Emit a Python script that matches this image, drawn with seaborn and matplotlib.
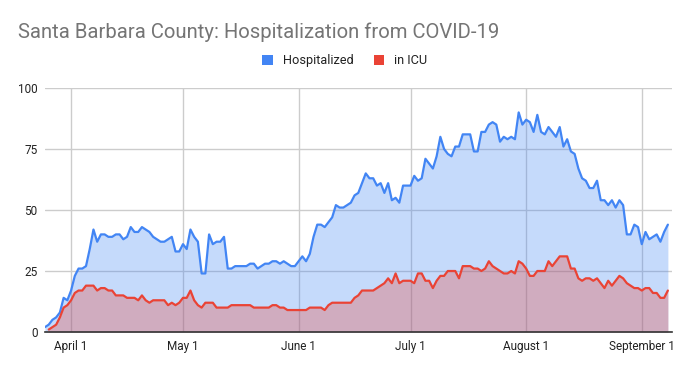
import numpy as np
import pandas as pd
import seaborn as sns
import matplotlib.pyplot as plt
from matplotlib.patches import Patch

# daily counts, starting 2020-03-25
hospitalized = [2, 3, 5, 6, 8, 14, 13, 17, 23, 26, 26, 27, 34, 42, 37, 40, 40, 39, 39, 40,
                40, 38, 39, 43, 41, 41, 43, 42, 41, 39, 38, 37, 37, 38, 39, 33, 33, 36, 34, 42,
                39, 37, 24, 24, 40, 36, 37, 37, 39, 26, 26, 27, 27, 27, 27, 28, 28, 26, 27, 28,
                28, 29, 29, 28, 29, 28, 27, 27, 29, 31, 29, 32, 39, 44, 44, 43, 45, 47, 52, 51,
                51, 52, 53, 56, 57, 61, 65, 63, 63, 60, 61, 57, 61, 54, 55, 53, 60, 60, 60, 64,
                62, 63, 71, 69, 67, 72, 80, 75, 73, 72, 76, 76, 81, 81, 81, 74, 74, 82, 82, 85,
                86, 85, 78, 80, 79, 80, 79, 90, 85, 87, 86, 82, 89, 82, 81, 84, 82, 80, 84, 76,
                79, 74, 73, 67, 63, 62, 59, 59, 62, 54, 54, 52, 54, 51, 54, 52, 40, 40, 44, 43,
                36, 41, 38, 39, 40, 37, 41, 44]
in_icu = [np.nan, 1, 2, 3, 6, 10, 11, 13, 16, 17, 17, 19, 19, 19, 17, 18, 18, 17, 17, 15,
          15, 15, 14, 14, 14, 13, 15, 13, 12, 13, 13, 13, 13, 11, 12, 11, 12, 14, 14, 17,
          13, 11, 10, 12, 12, 12, 10, 10, 10, 10, 11, 11, 11, 11, 11, 11, 10, 10, 10, 10,
          10, 11, 11, 10, 10, 9, 9, 9, 9, 9, 9, 10, 10, 10, 10, 9, 11, 12, 12, 12,
          12, 12, 12, 14, 15, 17, 17, 17, 17, 18, 19, 20, 22, 20, 24, 20, 21, 21, 21, 20,
          24, 24, 21, 21, 18, 21, 23, 23, 25, 25, 25, 22, 27, 27, 27, 26, 26, 25, 26, 29,
          27, 26, 25, 24, 24, 25, 24, 29, 28, 26, 23, 23, 25, 25, 25, 29, 27, 29, 31, 31,
          31, 26, 26, 22, 21, 22, 22, 21, 22, 20, 18, 21, 19, 21, 23, 22, 20, 19, 18, 18,
          17, 18, 18, 16, 16, 14, 14, 17]

month_ticks = ["2020-04-01", "2020-05-01", "2020-06-01", "2020-07-01", "2020-08-01", "2020-09-01"]
month_labels = ["April 1", "May 1", "June 1", "July 1", "August 1", "September 1"]
y_ticks = [0, 25, 50, 75, 100]

dates = pd.date_range("2020-03-25", periods=len(hospitalized), freq="D")
df = pd.DataFrame({"date": dates, "Hospitalized": hospitalized, "in ICU": in_icu})

BLUE = "#4285F4"
RED = "#EA4335"

sns.set_style("white")
plt.rcParams["font.family"] = ["Roboto", "DejaVu Sans"]

fig = plt.figure(figsize=(6.9, 3.71), dpi=100)
ax = fig.add_axes([0.0645, 0.1051, 0.9093, 0.6577])

# areas first, then the lines on top
ax.fill_between(df["date"], 0, df["Hospitalized"], color=BLUE, alpha=0.3, linewidth=0, zorder=2)
ax.fill_between(df["date"], 0, df["in ICU"], color=RED, alpha=0.3, linewidth=0, zorder=2)
sns.lineplot(data=df, x="date", y="Hospitalized", color=BLUE, linewidth=1.6, ax=ax, zorder=3)
sns.lineplot(data=df, x="date", y="in ICU", color=RED, linewidth=1.6, ax=ax, zorder=3)

ax.set_ylim(0, 100)
ax.set_xlim(dates[0] - pd.Timedelta(hours=3), dates[-1] + pd.Timedelta(hours=26))
ax.set_yticks(y_ticks)
ax.set_yticklabels([str(v) for v in y_ticks])
ax.set_xticks(pd.to_datetime(month_ticks))
ax.set_xticklabels(month_labels)

ax.grid(True, color="#cccccc", linewidth=1, zorder=1)
ax.set_axisbelow(True)
for s in ["top", "right", "left"]:
    ax.spines[s].set_visible(False)
ax.spines["bottom"].set_color("#333333")
ax.spines["bottom"].set_linewidth(1.2)
ax.tick_params(axis="both", length=0, labelsize=8.5, labelcolor="#222222")
ax.tick_params(axis="y", pad=5)
ax.tick_params(axis="x", pad=6)
ax.set_xlabel("")
ax.set_ylabel("")

fig.text(0.026, 0.912, "Santa Barbara County: Hospitalization from COVID-19",
         fontsize=14.6, color="#757575", ha="left", va="center")

handles = [Patch(facecolor=BLUE, edgecolor="none"), Patch(facecolor=RED, edgecolor="none")]
fig.legend(handles, ["Hospitalized", "in ICU"], loc="center", bbox_to_anchor=(0.5, 0.836),
           ncol=2, frameon=False, fontsize=9.2, handlelength=0.8, handleheight=0.8,
           handletextpad=0.8, columnspacing=1.6, labelcolor="#222222")

fig.savefig("out.png", dpi=100)
